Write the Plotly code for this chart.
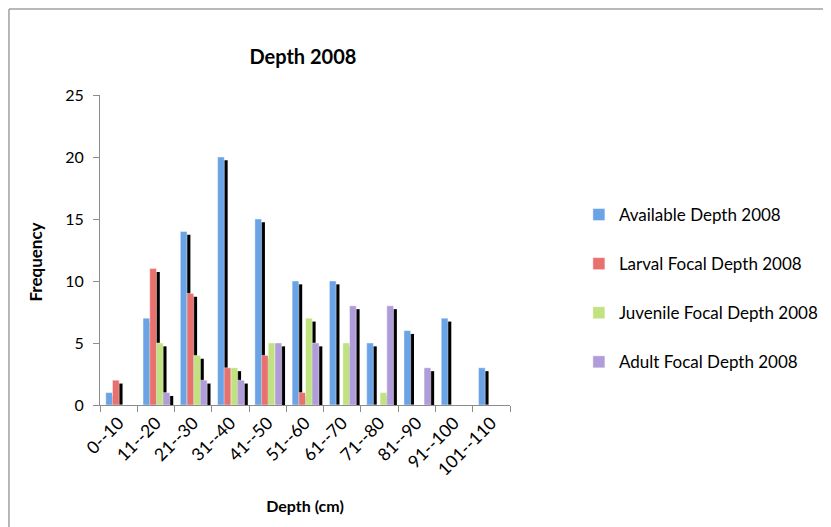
import plotly.graph_objects as go

categories = ["0--10", "11--20", "21--30", "31--40", "41--50", "51--60",
              "61--70", "71--80", "81--90", "91--100", "101--110"]
available = [1, 7, 14, 20, 15, 10, 10, 5, 6, 7, 3]
larval = [2, 11, 9, 3, 4, 1, 0, 0, 0, 0, 0]
juvenile = [0, 5, 4, 3, 5, 7, 5, 1, 0, 0, 0]
adult = [0, 1, 2, 2, 5, 5, 8, 8, 3, 0, 0]

series = [
    ("Available Depth 2008", available, "#6ba4e6"),
    ("Larval Focal Depth 2008", larval, "#e8716d"),
    ("Juvenile Focal Depth 2008", juvenile, "#c0e27f"),
    ("Adult Focal Depth 2008", adult, "#b09cd8"),
]

FONT = "Lato, 'Open Sans', sans-serif"
bw = 0.18
start = -0.345
sh_dx = 0.09
sh_dy = 0.27

fig = go.Figure()

# shadows first
for k, (name, vals, col) in enumerate(series):
    ys = [v if v > 0 else None for v in vals]
    fig.add_trace(go.Bar(
        x=categories, y=ys, base=[-sh_dy] * len(vals),
        width=bw, offset=start + k * bw + sh_dx,
        marker=dict(color="#000000", line=dict(width=0)),
        showlegend=False, hoverinfo="skip",
    ))

for k, (name, vals, col) in enumerate(series):
    fig.add_trace(go.Bar(
        x=categories, y=vals, name=name, legendgroup=name,
        width=bw, offset=start + k * bw,
        marker=dict(color=col, line=dict(width=0.6, color="rgba(255,255,255,0.7)")),
    ))

# outer frame lines (left and top)
fig.add_shape(type="line", xref="paper", yref="paper",
              x0=-0.222, x1=-0.222, y0=-0.5, y1=1.2774,
              line=dict(color="#a0a0a0", width=1.5))
fig.add_shape(type="line", xref="paper", yref="paper",
              x0=-0.222, x1=2.0, y0=1.2774, y1=1.2774,
              line=dict(color="#a0a0a0", width=1.5))

fig.add_annotation(text="<b>Frequency</b>", xref="paper", yref="paper",
                   x=-0.158, y=0.46, textangle=-90, showarrow=False,
                   xanchor="center", yanchor="middle",
                   font=dict(size=17, family=FONT, color="#000000"))

fig.update_layout(
    width=831, height=527,
    margin=dict(l=92, r=329, t=87, b=130, autoexpand=False),
    barmode="overlay",
    plot_bgcolor="white", paper_bgcolor="white",
    font=dict(family=FONT, size=16, color="#000000"),
    title=dict(text="<b>Depth 2008</b>", xref="paper", x=0.495, xanchor="center",
               yref="container", y=0.907, yanchor="middle", font=dict(size=20, family=FONT)),
    legend=dict(x=1.168, xanchor="left", y=0.671, yanchor="top",
                font=dict(size=17, family=FONT), tracegroupgap=24,
                itemwidth=30, bgcolor="rgba(0,0,0,0)"),
    showlegend=True,
)

fig.update_xaxes(
    type="category", categoryorder="array", categoryarray=categories,
    showline=True, linecolor="#8c8c8c", linewidth=1,
    ticks="outside", tickson="boundaries", ticklen=6, tickcolor="#8c8c8c",
    tickangle=-45, tickfont=dict(size=17.5),
    showgrid=False, zeroline=False,
    title=dict(text="<b>Depth (cm)</b>", font=dict(size=16), standoff=22),
)
fig.update_yaxes(
    range=[0, 25], tickvals=[0, 5, 10, 15, 20, 25],
    showline=True, linecolor="#8c8c8c", linewidth=1,
    ticks="outside", ticklen=6, tickcolor="#8c8c8c",
    tickfont=dict(size=16), ticklabelstandoff=6,
    showgrid=False, zeroline=False,
)

fig.write_html("out.html")
